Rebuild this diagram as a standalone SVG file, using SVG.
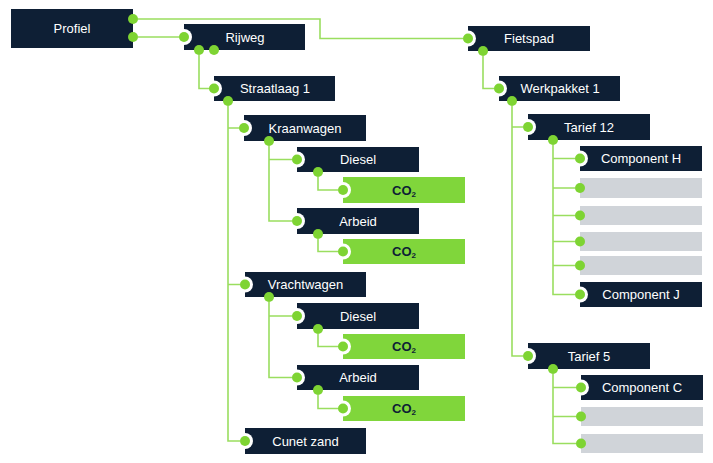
<svg xmlns="http://www.w3.org/2000/svg" width="713" height="463" viewBox="0 0 713 463">
<defs>
<style>
.n{fill:#0e1f35}
.g{fill:#80d63b}
.gr{fill:#d0d4d9}
.notch{fill:#ffffff}
.dot{fill:#7ed433}
.t{font-family:"Liberation Sans",Arial,sans-serif;font-size:13px;fill:#ffffff;text-anchor:middle}
.co{font-family:"Liberation Sans",Arial,sans-serif;font-size:13px;font-weight:bold;fill:#0e1f35;text-anchor:middle}
.sub{font-size:8px}
.c{fill:none;stroke:#9ade5f;stroke-width:1.6}
</style>
</defs>
<rect width="713" height="463" fill="#ffffff"/>
<g id="profiel"><rect class="n" x="11" y="9" width="122" height="39"/><circle class="dot" cx="133" cy="19" r="5"/><circle class="dot" cx="133" cy="37" r="5"/><text class="t" x="72" y="33">Profiel</text></g>
<g id="rijweg"><rect class="n" x="184" y="24" width="121" height="26"/><circle class="notch" cx="184" cy="37" r="8"/><circle class="dot" cx="184" cy="37" r="5"/><circle class="dot" cx="199" cy="50" r="5"/><circle class="dot" cx="214" cy="50" r="5"/><text class="t" x="245" y="41.5">Rijweg</text></g>
<g id="fietspad"><rect class="n" x="468" y="26" width="122" height="25"/><circle class="notch" cx="468" cy="38.5" r="8"/><circle class="dot" cx="468" cy="38.5" r="5"/><circle class="dot" cx="483" cy="51" r="5"/><text class="t" x="529" y="43">Fietspad</text></g>
<g id="werkpakket1"><rect class="n" x="499" y="76" width="121" height="25"/><circle class="notch" cx="499" cy="88.5" r="8"/><circle class="dot" cx="499" cy="88.5" r="5"/><circle class="dot" cx="512" cy="101" r="5"/><text class="t" x="560" y="93">Werkpakket 1</text></g>
<g id="straatlaag1"><rect class="n" x="214" y="76" width="121" height="25"/><circle class="notch" cx="214" cy="88.5" r="8"/><circle class="dot" cx="214" cy="88.5" r="5"/><circle class="dot" cx="228" cy="101" r="5"/><text class="t" x="275" y="93">Straatlaag 1</text></g>
<g id="kraanwagen"><rect class="n" x="244" y="115" width="122" height="26"/><circle class="notch" cx="244" cy="128" r="8"/><circle class="dot" cx="244" cy="128" r="5"/><circle class="dot" cx="269" cy="141" r="5"/><text class="t" x="305" y="132.5">Kraanwagen</text></g>
<g id="diesel1"><rect class="n" x="297" y="147" width="122" height="25"/><circle class="notch" cx="297" cy="159.5" r="8"/><circle class="dot" cx="297" cy="159.5" r="5"/><circle class="dot" cx="318" cy="172" r="5"/><text class="t" x="358" y="164">Diesel</text></g>
<g id="co2-1"><rect class="g" x="343" y="177" width="122" height="26"/><circle class="notch" cx="343" cy="190" r="8"/><circle class="dot" cx="343" cy="190" r="5"/><text class="co" x="404" y="194.5">CO<tspan class="sub" dy="2">2</tspan></text></g>
<g id="arbeid1"><rect class="n" x="297" y="208" width="122" height="26"/><circle class="notch" cx="297" cy="221" r="8"/><circle class="dot" cx="297" cy="221" r="5"/><circle class="dot" cx="318" cy="234" r="5"/><text class="t" x="358" y="225.5">Arbeid</text></g>
<g id="co2-2"><rect class="g" x="343" y="239" width="122" height="25"/><circle class="notch" cx="343" cy="251.5" r="8"/><circle class="dot" cx="343" cy="251.5" r="5"/><text class="co" x="404" y="256">CO<tspan class="sub" dy="2">2</tspan></text></g>
<g id="vrachtwagen"><rect class="n" x="245" y="272" width="121" height="25"/><circle class="notch" cx="245" cy="284.5" r="8"/><circle class="dot" cx="245" cy="284.5" r="5"/><circle class="dot" cx="269" cy="297" r="5"/><text class="t" x="305.5" y="289">Vrachtwagen</text></g>
<g id="diesel2"><rect class="n" x="297" y="303" width="122" height="26"/><circle class="notch" cx="297" cy="316" r="8"/><circle class="dot" cx="297" cy="316" r="5"/><circle class="dot" cx="318" cy="329" r="5"/><text class="t" x="358" y="320.5">Diesel</text></g>
<g id="co2-3"><rect class="g" x="343" y="334" width="122" height="25"/><circle class="notch" cx="343" cy="346.5" r="8"/><circle class="dot" cx="343" cy="346.5" r="5"/><text class="co" x="404" y="351">CO<tspan class="sub" dy="2">2</tspan></text></g>
<g id="arbeid2"><rect class="n" x="297" y="365" width="122" height="25"/><circle class="notch" cx="297" cy="377.5" r="8"/><circle class="dot" cx="297" cy="377.5" r="5"/><circle class="dot" cx="318" cy="390" r="5"/><text class="t" x="358" y="382">Arbeid</text></g>
<g id="co2-4"><rect class="g" x="343" y="396" width="122" height="25"/><circle class="notch" cx="343" cy="408.5" r="8"/><circle class="dot" cx="343" cy="408.5" r="5"/><text class="co" x="404" y="413">CO<tspan class="sub" dy="2">2</tspan></text></g>
<g id="cunetzand"><rect class="n" x="245" y="428" width="121" height="26"/><circle class="notch" cx="245" cy="441" r="8"/><circle class="dot" cx="245" cy="441" r="5"/><text class="t" x="305.5" y="445.5">Cunet zand</text></g>
<g id="tarief12"><rect class="n" x="528" y="114" width="122" height="26"/><circle class="notch" cx="528" cy="127" r="8"/><circle class="dot" cx="528" cy="127" r="5"/><circle class="dot" cx="553" cy="140" r="5"/><text class="t" x="589" y="131.5">Tarief 12</text></g>
<g id="componentH"><rect class="n" x="580" y="146" width="122" height="25"/><circle class="notch" cx="580" cy="158.5" r="8"/><circle class="dot" cx="580" cy="158.5" r="5"/><text class="t" x="641" y="163">Component H</text></g>
<g id="blank1"><rect class="gr" x="580" y="178" width="122" height="20"/><circle class="dot" cx="580" cy="188" r="5"/></g>
<g id="blank2"><rect class="gr" x="580" y="206" width="122" height="19"/><circle class="dot" cx="580" cy="215.5" r="5"/></g>
<g id="blank3"><rect class="gr" x="580" y="232" width="122" height="19"/><circle class="dot" cx="580" cy="241.5" r="5"/></g>
<g id="blank4"><rect class="gr" x="580" y="256" width="122" height="19"/><circle class="dot" cx="580" cy="265.5" r="5"/></g>
<g id="componentJ"><rect class="n" x="580" y="282" width="122" height="25"/><circle class="notch" cx="580" cy="294.5" r="8"/><circle class="dot" cx="580" cy="294.5" r="5"/><text class="t" x="641" y="299">Component J</text></g>
<g id="tarief5"><rect class="n" x="528" y="343" width="122" height="26"/><circle class="notch" cx="528" cy="356" r="8"/><circle class="dot" cx="528" cy="356" r="5"/><circle class="dot" cx="553" cy="369" r="5"/><text class="t" x="589" y="360.5">Tarief 5</text></g>
<g id="componentC"><rect class="n" x="581" y="375" width="122" height="25"/><circle class="notch" cx="581" cy="387.5" r="8"/><circle class="dot" cx="581" cy="387.5" r="5"/><text class="t" x="642" y="392">Component C</text></g>
<g id="blank5"><rect class="gr" x="581" y="407" width="122" height="19"/><circle class="dot" cx="581" cy="416.5" r="5"/></g>
<g id="blank6"><rect class="gr" x="581" y="434" width="122" height="19"/><circle class="dot" cx="581" cy="443.5" r="5"/></g>
<g id="connectors">
<path class="c" d="M138,37H179"/>
<path class="c" d="M138,19H320V38.5H463"/>
<path class="c" d="M199,55V88.5H209"/>
<path class="c" d="M483,56V88.5H494"/>
<path class="c" d="M228,106V441H240M228,128H239M228,284.5H240"/>
<path class="c" d="M269,146V221H292M269,159.5H292"/>
<path class="c" d="M318,177V190H338"/>
<path class="c" d="M318,239V251.5H338"/>
<path class="c" d="M269,302V377.5H292M269,316H292"/>
<path class="c" d="M318,334V346.5H338"/>
<path class="c" d="M318,395V408.5H338"/>
<path class="c" d="M512,106V356H523M512,127H523"/>
<path class="c" d="M553,145V294.5H575M553,158.5H575M553,188H575M553,215.5H575M553,241.5H575M553,265.5H575"/>
<path class="c" d="M553,374V443.5H576M553,387.5H576M553,416.5H576"/>
</g>
</svg>
